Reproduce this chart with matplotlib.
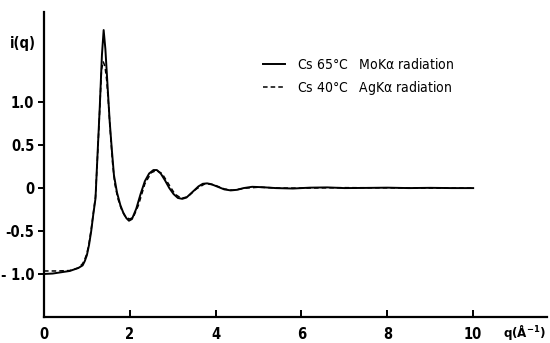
import matplotlib
matplotlib.use('Agg')
import matplotlib.pyplot as plt

plt.rcParams['font.family'] = ['DejaVu Sans']
plt.rcParams['font.stretch'] = 'condensed'
plt.rcParams['mathtext.default'] = 'regular'

# Cs 65°C, MoKa radiation (solid)
q_mo = [0.0, 0.2, 0.4, 0.6, 0.8, 0.9, 0.95, 1.0, 1.05, 1.1, 1.15, 1.2, 1.25, 1.3,
        1.35, 1.39, 1.43, 1.48, 1.53, 1.58, 1.63, 1.7, 1.78, 1.85, 1.92, 1.98, 2.05,
        2.15, 2.25, 2.35, 2.45, 2.55, 2.63, 2.72, 2.82, 2.92, 3.02, 3.12, 3.22, 3.32,
        3.45, 3.6, 3.7, 3.8, 3.9, 4.05, 4.2, 4.35, 4.5, 4.65, 4.85, 5.1, 5.4, 5.8,
        6.2, 6.6, 7.0, 7.5, 8.0, 8.5, 9.0, 9.5, 10.0]
i_mo = [-1.0, -0.995, -0.98, -0.965, -0.93, -0.90, -0.85, -0.78, -0.66, -0.50, -0.30,
        -0.12, 0.42, 0.95, 1.55, 1.84, 1.62, 1.20, 0.78, 0.45, 0.15, -0.05, -0.20,
        -0.29, -0.35, -0.38, -0.36, -0.24, -0.07, 0.08, 0.17, 0.21, 0.21, 0.17, 0.09,
        0.00, -0.07, -0.115, -0.125, -0.11, -0.05, 0.02, 0.05, 0.055, 0.045, 0.015,
        -0.015, -0.027, -0.02, 0.0, 0.015, 0.01, 0.0, -0.005, 0.005, 0.008, 0.0,
        0.002, 0.005, 0.0, 0.003, 0.0, 0.0]

# Cs 40°C, AgKa radiation (dashed)
q_ag = [0.0, 0.3, 0.6, 0.8, 0.9, 0.95, 1.0, 1.05, 1.1, 1.15, 1.2, 1.25, 1.3, 1.34,
        1.38, 1.42, 1.46, 1.5, 1.55, 1.6, 1.65, 1.72, 1.8, 1.88, 1.95, 2.0, 2.08,
        2.2, 2.35, 2.5, 2.62, 2.75, 2.9, 3.05, 3.2, 3.35, 3.55, 3.75, 3.95, 4.2,
        4.4, 4.7, 5.0, 5.5, 6.0, 7.0, 8.0, 9.0, 10.0]
i_ag = [-0.965, -0.965, -0.96, -0.93, -0.88, -0.83, -0.76, -0.64, -0.48, -0.29,
        -0.10, 0.40, 0.93, 1.38, 1.47, 1.42, 1.26, 1.0, 0.62, 0.28, 0.05, -0.12,
        -0.24, -0.32, -0.35, -0.36, -0.34, -0.20, 0.05, 0.18, 0.205, 0.17, 0.05,
        -0.07, -0.12, -0.10, -0.01, 0.05, 0.04, -0.01, -0.025, 0.0, 0.01, 0.0,
        0.0, 0.005, 0.003, 0.0, 0.0]

x_ticks = [0, 2, 4, 6, 8, 10]
y_ticks = [-1.0, -0.5, 0.0, 0.5, 1.0]
y_tick_labels = ['- 1.0', '-0.5', '0', '0.5', '1.0']

fig = plt.figure(figsize=(5.5, 3.43), dpi=100)
ax = fig.add_axes([0.08, 0.076, 0.9145, 0.889])

ax.plot(q_mo, i_mo, color='black', lw=1.4, label='Cs 65°C   MoK$\\alpha$ radiation')
ax.plot(q_ag, i_ag, color='black', lw=1.1, ls=(0, (3, 2)),
        label='Cs 40°C   AgK$\\alpha$ radiation')

ax.set_xlim(0, 11.72)
ax.set_ylim(-1.5, 2.05)

for side in ['top', 'right']:
    ax.spines[side].set_visible(False)
for side in ['left', 'bottom']:
    ax.spines[side].set_linewidth(1.6)

ax.set_xticks(x_ticks)
ax.set_xticklabels([str(t) for t in x_ticks], fontsize=10.5, fontweight='bold')
ax.set_yticks(y_ticks)
ax.set_yticklabels(y_tick_labels, fontsize=10.5, fontweight='bold')
ax.tick_params(axis='x', direction='in', length=5, width=1.4, pad=7)
ax.tick_params(axis='y', direction='out', length=4, width=1.4, pad=3)

fig.text(0.018, 0.86, 'i(q)', fontsize=10.5, fontweight='bold')
fig.text(0.993, 0.03, 'q(Å$^{-1}$)', fontsize=9.5, fontweight='bold',
         va='center', ha='right')

ax.legend(loc='upper left', bbox_to_anchor=(0.455, 0.87), bbox_transform=fig.transFigure,
          frameon=False, handlelength=1.6, handletextpad=0.9, labelspacing=0.5,
          prop={'size': 10})

plt.savefig('out.png', dpi=100)
